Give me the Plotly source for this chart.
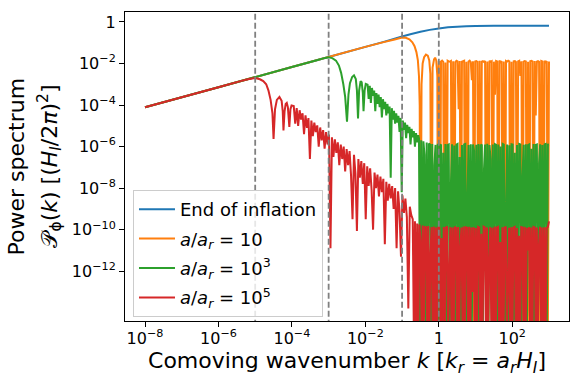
import numpy as np
import plotly.graph_objects as go

# all values are log10(k) and log10(P)
# values below the axis floor (-15) mark the zeros of the oscillations

# end of inflation
k_end = [-8, -7, -6, -5, -4, -3, -2, -1.5, -1, -0.75, -0.5, -0.25, 0, 0.25, 0.5, 0.75, 1, 1.5, 2, 2.5, 3]
p_end = [-4.11, -3.625, -3.14, -2.655, -2.17, -1.685, -1.20, -0.96, -0.70, -0.58, -0.47, -0.38,
         -0.31, -0.26, -0.225, -0.205, -0.19, -0.183, -0.18, -0.18, -0.18]

# a/a_r = 10 : smooth part, then the noisy tail on an even log grid
k_10 = [-8, -6, -4, -2, -1.5, -1.2, -1.0, -0.9, -0.8, -0.72, -0.66, -0.61, -0.57, -0.54, -0.52,
        -0.50, -0.47, -0.44, -0.40, -0.35, -0.30, -0.26, -0.23, -0.20, -0.17, -0.13, -0.10,
        -0.07, -0.04, -0.02]
p_10 = [-4.11, -3.14, -2.17, -1.20, -0.97, -0.84, -0.75, -0.76, -0.84, -0.98, -1.17, -1.45, -1.85,
        -2.6, -4.0, -15, -3.0, -2.0, -1.7, -1.57, -1.62, -1.85, -2.5, -15, -2.2, -1.8, -1.72,
        -1.85, -2.6, -15]
k_10_tail = (0.0, 3.0)
p_10_tail = [
    -1.88, -15, -1.90, -1.86, -1.92, -15, -1.95, -15, -1.87, -1.90,
    -1.91, -1.88, -15, -1.89, -15, -1.93, -1.87, -1.90, -4.2, -1.88,
    -15, -1.91, -1.89, -1.87, -15, -1.92, -15, -1.90, -1.86, -1.93,
    -2.8, -1.89, -15, -1.90, -1.88, -1.92, -15, -1.87, -15, -1.91,
    -1.89, -1.93, -1.88, -15, -1.90, -15, -1.87, -1.92, -1.89, -15,
    -1.91, -3.5, -1.88, -1.90, -15, -1.86, -1.93, -1.89, -15, -1.90,
    -15, -1.88, -1.91, -1.87, -1.90, -15, -1.92, -15, -1.89, -1.88,
    -1.93, -15, -1.90, -1.87, -2.6, -1.89, -15, -1.91, -1.88, -1.90,
    -15, -1.92, -15, -1.89, -1.87, -1.90, -15, -1.88, -4.5, -1.91,
    -1.89, -1.92, -15, -1.88, -1.90, -15, -1.87, -1.93, -1.89, -15,
    -1.90]

# a/a_r = 10^3
k_1e3 = [-8, -6, -4, -3.3, -3.1, -3.0, -2.9, -2.8, -2.72, -2.66, -2.6, -2.55, -2.50, -2.46, -2.42,
         -2.36, -2.31, -2.26, -2.23, -2.20, -2.17, -2.13, -2.10, -2.07, -2.05, -2.02, -1.99]
p_1e3 = [-4.11, -3.14, -2.17, -1.83, -1.73, -1.70, -1.74, -1.86, -2.1, -2.45, -3.0, -3.6, -4.8, -3.5,
         -2.95, -2.65, -2.57, -2.75, -3.3, -4.65, -3.3, -2.85, -2.9, -3.4, -4.3, -3.3, -2.98]
k_1e3_mid = (-1.94, -0.56)
p_1e3_mid = [
    -3.02, -3.7, -3.08, -3.9, -3.18, -3.55, -3.30, -4.3, -3.42, -3.95,
    -3.50, -4.1, -3.62, -4.6, -3.72, -4.2, -3.85, -4.5, -3.95, -4.4,
    -4.07, -7.5, -4.15, -4.7, -4.28, -4.9, -4.40, -4.85, -4.52, -5.3,
    -4.62, -8.2, -4.75, -5.2, -4.85, -5.6, -4.95, -5.35, -5.05, -5.9,
    -5.15, -5.55, -5.25, -6.0, -5.35, -5.8, -5.45]
k_1e3_tail = (-0.54, 3.0)
p_1e3_tail = [
    -5.6, -15, -5.7, -15, -5.75, -6.4, -15, -5.8, -15, -5.85,
    -5.9, -15, -5.88, -15, -6.9, -5.92, -15, -5.87, -15, -5.95,
    -5.9, -15, -6.3, -15, -5.88, -15, -5.93, -5.9, -15, -7.8,
    -5.89, -15, -5.95, -15, -5.9, -5.87, -15, -6.5, -15, -5.92,
    -15, -5.9, -5.88, -15, -8.4, -5.93, -15, -5.89, -15, -5.9,
    -6.2, -15, -5.91, -15, -5.88, -15, -5.95, -5.9, -15, -7.1,
    -5.9, -15, -5.87, -15, -5.93, -6.6, -15, -5.9, -15, -5.89,
    -5.92, -15, -5.9, -15, -6.0, -15, -5.88, -5.91, -15, -9.0,
    -5.9, -15, -5.94, -15, -5.89, -5.9, -15, -6.3, -15, -5.92,
    -15, -5.88, -5.9, -15, -7.4, -5.91, -15, -5.89, -15, -5.93,
    -5.9, -15, -6.1, -15, -5.88, -15, -5.92, -5.9, -15, -6.8,
    -5.89, -15, -5.93, -15, -5.9, -5.88, -15, -5.91, -5.9]

# a/a_r = 10^5
k_1e5 = [-8, -6, -5.4, -5.2, -5.0, -4.87, -4.78, -4.70, -4.64, -4.58, -4.53, -4.50, -4.46, -4.41,
         -4.34, -4.28, -4.25, -4.23, -4.20, -4.17, -4.14, -4.11, -4.07, -4.04, -4.01]
p_1e5 = [-4.11, -3.14, -2.85, -2.76, -2.70, -2.76, -2.85, -3.0, -3.29, -3.75, -4.4, -5.63, -4.2,
         -3.75, -3.61, -3.8, -4.3, -5.22, -4.3, -3.95, -3.9, -4.1, -5.06, -4.2, -4.02]
k_1e5_mid = (-3.95, -0.75)
p_1e5_mid = [
    -4.05, -4.9, -4.15, -5.0, -4.25, -4.7, -4.4, -5.4, -4.5, -5.1,
    -4.63, -6.6, -4.75, -5.5, -4.85, -5.3, -4.98, -6.0, -5.08, -5.7,
    -5.21, -6.1, -5.3, -5.9, -5.42, -10.9, -5.55, -6.5, -5.65, -6.3,
    -5.8, -6.9, -5.9, -6.6, -6.0, -7.2, -6.12, -6.9, -6.22, -7.4,
    -9.5, -6.4, -7.3, -10.06, -6.6, -7.5, -6.7, -7.8, -6.8, -9.5,
    -6.95, -7.9, -7.05, -8.1, -10.0, -7.25, -8.0, -7.35, -8.4, -7.45,
    -8.2, -7.55, -10.7, -7.7, -8.6, -7.8, -8.5, -7.9, -9.0, -8.0,
    -10.9, -8.15, -9.1, -11.3, -8.35, -9.2, -8.5, -9.4, -13.8, -8.9,
    -9.3]
k_1e5_tail = (-0.71, 3.0)
p_1e5_tail = [
    -9.5, -15, -9.6, -15, -9.7, -15, -9.75, -10.5, -15, -9.8,
    -15, -9.85, -9.9, -15, -9.82, -15, -11.2, -9.88, -15, -9.85,
    -15, -9.9, -15, -9.86, -9.92, -15, -10.4, -15, -9.87, -15,
    -9.9, -9.85, -15, -12.0, -9.88, -15, -9.9, -15, -9.86, -9.93,
    -15, -9.87, -15, -10.8, -9.9, -15, -9.85, -15, -9.89, -9.91,
    -15, -9.86, -15, -9.9, -13.0, -9.88, -15, -9.92, -15, -9.87,
    -9.9, -15, -10.2, -15, -9.86, -9.89, -15, -9.9, -15, -11.5,
    -9.88, -15, -9.91, -15, -9.85, -15, -9.9, -9.87, -15, -10.6,
    -15, -9.89, -15, -9.9, -9.86, -15, -12.5, -9.91, -15, -9.88,
    -15, -9.9, -9.87, -15, -9.92, -15, -10.3, -15, -9.88, -9.9,
    -15, -9.86, -15, -9.91, -11.0, -9.88, -15, -9.9, -15, -9.87,
    -9.89, -15, -9.9, -15, -10.7, -9.86, -15, -9.9, -15, -9.88,
    -15, -9.91, -9.87, -9.6]

# scale factor markers (dashed lines)
k_marks = [1e-5, 1e-3, 1e-1, 1]

x_ticks = [1e-8, 1e-6, 1e-4, 1e-2, 1, 1e2]
x_ticktext = ['10<sup>−8</sup>', '10<sup>−6</sup>', '10<sup>−4</sup>', '10<sup>−2</sup>', '1',
              '10<sup>2</sup>']
y_ticks = [1, 1e-2, 1e-4, 1e-6, 1e-8, 1e-10, 1e-12]
y_ticktext = ['1', '10<sup>−2</sup>', '10<sup>−4</sup>', '10<sup>−6</sup>', '10<sup>−8</sup>',
              '10<sup>−10</sup>', '10<sup>−12</sup>']


def series(k_parts, p_parts):
    lk, lp = [], []
    for k, p in zip(k_parts, p_parts):
        if isinstance(k, tuple):  # evenly sampled section, (start, stop)
            k = np.linspace(k[0], k[1], len(p))
        lk.extend(k)
        lp.extend(p)
    return 10 ** np.array(lk, dtype=float), 10 ** np.array(lp, dtype=float)


curves = [
    ('End of inflation', '#1f77b4', [k_end], [p_end]),
    ('<i>a</i>/<i>a<sub>r</sub></i> = 10', '#ff7f0e', [k_10, k_10_tail], [p_10, p_10_tail]),
    ('<i>a</i>/<i>a<sub>r</sub></i> = 10<sup>3</sup>', '#2ca02c',
     [k_1e3, k_1e3_mid, k_1e3_tail], [p_1e3, p_1e3_mid, p_1e3_tail]),
    ('<i>a</i>/<i>a<sub>r</sub></i> = 10<sup>5</sup>', '#d62728',
     [k_1e5, k_1e5_mid, k_1e5_tail], [p_1e5, p_1e5_mid, p_1e5_tail]),
]

fig = go.Figure()
for i, (name, color, ks, ps) in enumerate(curves):
    x, y = series(ks, ps)
    fig.add_trace(go.Scatter(x=x, y=y, name=name, mode='lines', legendgroup=str(i),
                             line=dict(color=color, width=2, simplify=False)))

# vertical dashed lines, drawn over the curves (clipped to the axes)
for k in k_marks:
    fig.add_trace(go.Scatter(x=[k, k], y=[1e3, 1e-20], mode='lines', showlegend=False,
                             hoverinfo='skip',
                             line=dict(color='#808080', width=1.8, dash='6px,3px')))

font = 'DejaVu Sans'
axis_common = dict(type='log', showgrid=False, zeroline=False, showline=True, mirror=True,
                   linecolor='black', linewidth=1, ticks='outside', ticklen=5,
                   tickcolor='black', automargin=False,
                   tickfont=dict(family=font, size=16, color='black'))

fig.update_layout(
    width=582, height=383,
    margin=dict(l=125, r=13, t=12, b=62),
    plot_bgcolor='white', paper_bgcolor='white',
    font=dict(family=font, color='black'),
    xaxis=dict(axis_common, range=[-8.545, 3.545], tickvals=x_ticks, ticktext=x_ticktext,
               ticklabelstandoff=-2,
               title=dict(text='Comoving wavenumber <i>k</i> [<i>k<sub>r</sub></i> = '
                               '<i>a<sub>r</sub>H<sub>I</sub></i>]',
                          font=dict(size=22), standoff=2)),
    yaxis=dict(axis_common, range=[-14.4, 0.48], tickvals=y_ticks, ticktext=y_ticktext),
    legend=dict(x=0.018, y=0.424, xanchor='left', yanchor='top', tracegroupgap=3,
                itemwidth=36,
                bgcolor='rgba(255,255,255,0.8)', bordercolor='#cccccc', borderwidth=1,
                font=dict(size=18, family=font)),
    showlegend=True,
)

# y axis title: two lines, placed as in the reference
y_title = ['Power spectrum',
           '𝒫<sub>ϕ</sub>(<i>k</i>) [(<i>H<sub>I</sub></i>/2<i>π</i>)<sup>2</sup>]']
for text, px in zip(y_title, [16, 49]):
    fig.add_annotation(text=text, xref='paper', yref='paper', x=(px - 125) / 444, y=0.5,
                       xanchor='center', yanchor='middle', textangle=-90, showarrow=False,
                       font=dict(size=22, family=font, color='black'))

fig.write_html("out.html", config={'displayModeBar': False},
               post_script="document.body.style.margin='0px';")
